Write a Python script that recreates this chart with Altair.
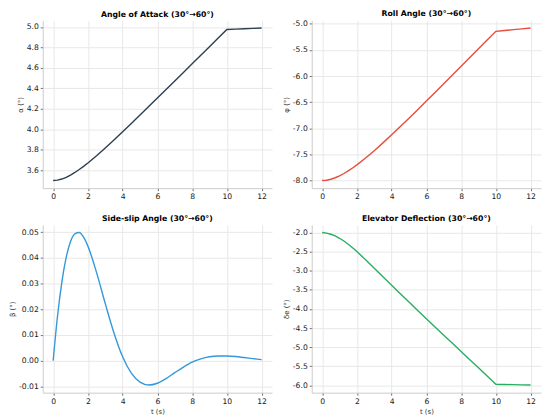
import altair as alt
import pandas as pd

# ---- data ----
t = [0, 0.25, 0.5, 0.75, 1, 1.25, 1.5, 1.75, 2, 2.5, 3, 3.5, 4, 4.5, 5,
     5.5, 6, 6.5, 7, 7.5, 8, 8.5, 9, 9.5, 10, 10.5, 11, 11.5, 12]
alpha = [3.500, 3.504, 3.515, 3.532, 3.554, 3.579, 3.608, 3.639, 3.672,
         3.743, 3.818, 3.896, 3.977, 4.058, 4.140, 4.223, 4.306, 4.389,
         4.473, 4.556, 4.640, 4.724, 4.807, 4.891, 4.975, 4.979, 4.982,
         4.986, 4.989]
roll = [-8.000, -7.993, -7.975, -7.946, -7.909, -7.865, -7.815, -7.759,
        -7.699, -7.569, -7.428, -7.279, -7.125, -6.967, -6.806, -6.643,
        -6.479, -6.313, -6.147, -5.981, -5.814, -5.646, -5.479, -5.311,
        -5.143, -5.128, -5.112, -5.097, -5.081]
beta = [0.0, 0.0173, 0.0306, 0.0402, 0.0464, 0.0494, 0.0499, 0.0481, 0.0446,
        0.0343, 0.0222, 0.0108, 0.0015, -0.0049, -0.0084, -0.0095, -0.0088,
        -0.0070, -0.0047, -0.0025, -0.0006, 0.0007, 0.0015, 0.0018, 0.0018,
        0.0016, 0.0012, 0.0008, 0.0004]
elev = [-2.000, -2.015, -2.045, -2.090, -2.150, -2.222, -2.305, -2.397,
        -2.497, -2.712, -2.932, -3.155, -3.377, -3.600, -3.820, -4.040,
        -4.255, -4.470, -4.685, -4.900, -5.112, -5.327, -5.540, -5.755,
        -5.970, -5.975, -5.980, -5.985, -5.990]

x_ticks = [0, 2, 4, 6, 8, 10, 12]
alpha_ticks = [3.6, 3.8, 4.0, 4.2, 4.4, 4.6, 4.8, 5.0]
roll_ticks = [-8.0, -7.5, -7.0, -6.5, -6.0, -5.5, -5.0]
beta_ticks = [-0.01, 0.0, 0.01, 0.02, 0.03, 0.04, 0.05]
elev_ticks = [-6.0, -5.5, -5.0, -4.5, -4.0, -3.5, -3.0, -2.5, -2.0]

titles = ["Angle of Attack (30°→60°)", "Roll Angle (30°→60°)",
          "Side-slip Angle (30°→60°)", "Elevator Deflection (30°→60°)"]
ytitles = ["α (°)", "φ (°)", "β (°)", "δe (°)"]
colors = ["#2c3e50", "#e74c3c", "#3498db", "#27ae60"]

W, H = 231, 169


def padded(vals, frac=0.05):
    lo, hi = min(vals), max(vals)
    m = (hi - lo) * frac
    return [lo - m, hi + m]


def panel(yv, title, ytitle, color, ticks, fmt, xtitle, interp):
    df = pd.DataFrame({"t": t, "v": yv})
    xaxis = alt.Axis(values=x_ticks, labelFlush=False, format="d")
    return (
        alt.Chart(df)
        .mark_line(color=color, strokeWidth=1.4, interpolate=interp)
        .encode(
            x=alt.X("t:Q", title=xtitle,
                    scale=alt.Scale(domain=padded(t), nice=False, zero=False),
                    axis=xaxis),
            y=alt.Y("v:Q", title=ytitle,
                    scale=alt.Scale(domain=padded(yv), nice=False, zero=False),
                    axis=alt.Axis(values=ticks,
                                  labelExpr="replace(format(datum.value, '%s'), '\u2212', '-')" % fmt)),
        )
        .properties(width=W, height=H,
                    title=alt.TitleParams(title, fontSize=7.8, fontWeight="bold",
                                          font="DejaVu Sans", offset=2,
                                          color="#000000"))
    )


p1 = panel(alpha, titles[0], ytitles[0], colors[0], alpha_ticks, ".1f", None, "linear")
p2 = panel(roll, titles[1], ytitles[1], colors[1], roll_ticks, ".1f", None, "linear")
p3 = panel(beta, titles[2], ytitles[2], colors[2], beta_ticks, ".2f", "t (s)", "monotone")
p4 = panel(elev, titles[3], ytitles[3], colors[3], elev_ticks, ".1f", "t (s)", "linear")

chart = (
    alt.concat(p1, p2, p3, p4, columns=2, spacing={"row": 13, "column": 9})
    .properties(padding={"left": 0, "top": 0, "right": 0, "bottom": 0})
    .configure_view(stroke="transparent")
    .configure_axis(
        grid=True, gridColor="#e8e8e8", gridWidth=1,
        domainColor="#cccccc", domainWidth=1,
        tickColor="#444444", tickSize=2.5, tickWidth=0.8,
        labelFont="DejaVu Sans", labelFontSize=7.7, labelColor="#1a1a1a",
        labelPadding=2,
        titleFont="DejaVu Sans", titleFontSize=7, titleFontWeight="normal",
        titleColor="#333333", titlePadding=3,
    )
)

chart.save("out.html", embed_options={"renderer": "svg", "actions": False})
